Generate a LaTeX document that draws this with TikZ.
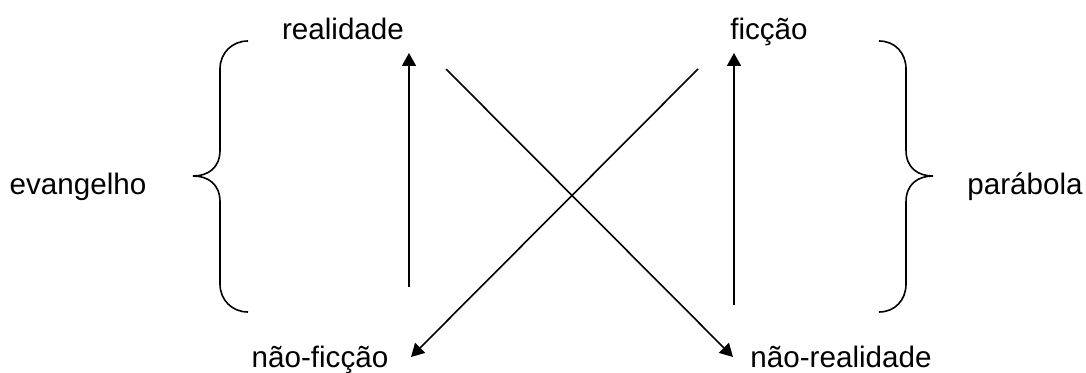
\documentclass[tikz,border=0pt]{standalone}
\usepackage{fontspec}
\setmainfont{Liberation Sans}
\usetikzlibrary{arrows.meta}

\begin{document}
\begin{tikzpicture}[
		x=0.5pt, y=-0.5pt,
		word/.style={anchor=base, inner sep=0pt, font=\fontsize{14.8}{17}\selectfont},
		arrow/.style={-{Triangle[length=6.5pt, width=7pt]}, line width=0.8pt},
		brace/.style={line width=0.8pt}
	]
		\useasboundingbox (0,0) rectangle (1086,373);
		\node[word] (real) at (343,40) {realidade};
		\node[word] (fic) at (769,40) {ficção};
		\node[word] (naofic) at (320,368) {não-ficção};
		\node[word] (naoreal) at (841,368) {não-realidade};
		\node[word] (evang) at (78,195) {evangelho};
		\node[word] (parab) at (1025,195) {parábola};
		% arrow ends
		\coordinate (lbot) at (409,287);
		\coordinate (ltop) at (409,53);
		\coordinate (rbot) at (734,305);
		\coordinate (rtop) at (734,53);
		\coordinate (d1a) at (446,69);
		\coordinate (d1b) at (733,357);
		\coordinate (d2a) at (698,69);
		\coordinate (d2b) at (411,357);
		\foreach \a/\b in {lbot/ltop,rbot/rtop,d1a/d1b,d2a/d2b}
			\draw[arrow] (\a) -- (\b);
		% braces
		\draw[brace] (248,41) .. controls (232,41) and (220,53) .. (220,69)
			-- (220,150) .. controls (220,168) and (208,176) .. (193,176)
			.. controls (208,176) and (220,184) .. (220,202)
			-- (220,284) .. controls (220,300) and (232,312) .. (248,312);
		\draw[brace] (879,41) .. controls (895,41) and (906,53) .. (906,69)
			-- (906,150) .. controls (906,168) and (918,176) .. (933,176)
			.. controls (918,176) and (906,184) .. (906,202)
			-- (906,284) .. controls (906,300) and (895,312) .. (879,312);
	\end{tikzpicture}
\end{document}
